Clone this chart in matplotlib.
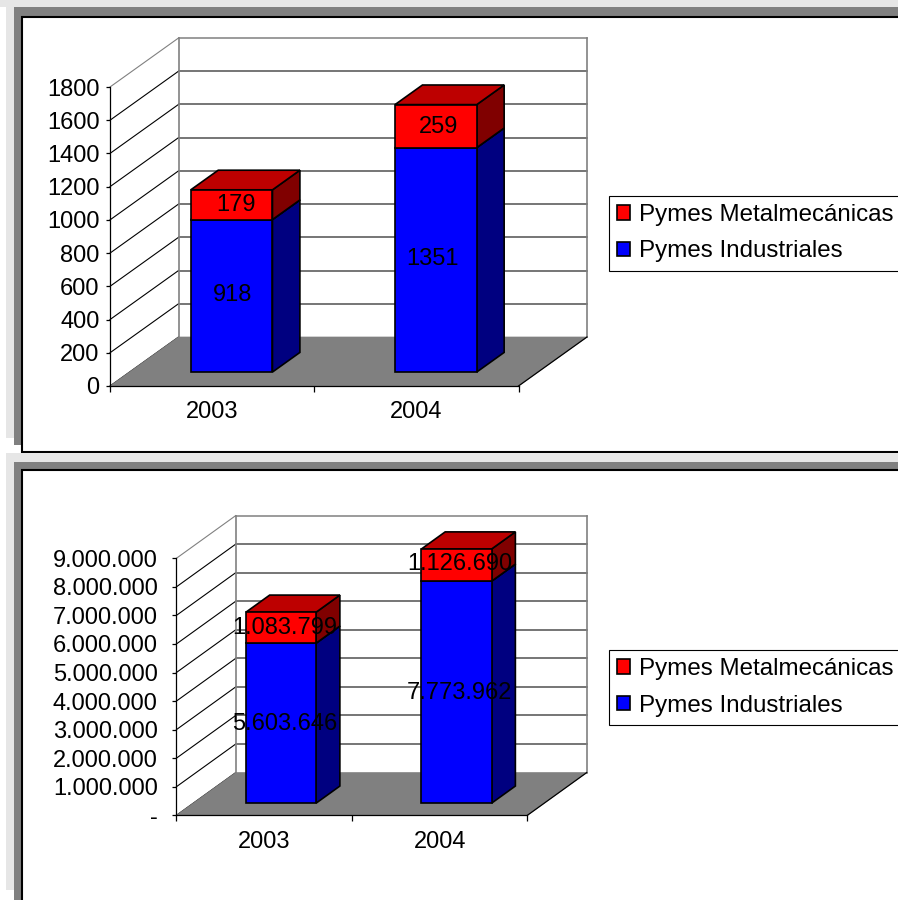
import matplotlib
matplotlib.use("Agg")
import matplotlib.pyplot as plt
from matplotlib.patches import Polygon, Patch, Rectangle

plt.rcParams['font.family'] = ['Liberation Sans', 'DejaVu Sans']

W, H = 898, 900

categories = ['2003', '2004']
series_names = ['Pymes Industriales', 'Pymes Metalmecánicas']

pymes_count_ind = [918, 1351]
pymes_count_met = [179, 259]
count_ticks = [0, 200, 400, 600, 800, 1000, 1200, 1400, 1600, 1800]

pymes_sales_ind = [5603646, 7773962]
pymes_sales_met = [1083799, 1126690]
sales_ticks = [0, 1000000, 2000000, 3000000, 4000000, 5000000, 6000000, 7000000, 8000000, 9000000]


def plain(v):
    return str(v)


def dotted(v):
    return '-' if v == 0 else f'{v:,}'.replace(',', '.')


FS = 17
fig = plt.figure(figsize=(W / 100, H / 100), dpi=100, facecolor='white')

bg = fig.add_axes([0, 0, 1, 1], zorder=0)
bg.set_xlim(0, W)
bg.set_ylim(H, 0)
bg.axis('off')
LIGHT, DARK = '#e6e6e6', '#808080'
bg.add_patch(Rectangle((0, 0), W, 7, fc=LIGHT, ec='none'))
bg.add_patch(Rectangle((6, 0), W, 438, fc=LIGHT, ec='none'))
bg.add_patch(Rectangle((14, 7), W, 438, fc=DARK, ec='none'))
bg.add_patch(Rectangle((22, 16.5), W, 435.5, fc='white', ec='black', lw=1.5))
bg.add_patch(Rectangle((6, 453), W, 437, fc=LIGHT, ec='none'))
bg.add_patch(Rectangle((14, 462), W, 440, fc=DARK, ec='none'))
bg.add_patch(Rectangle((22, 470), W, 440, fc='white', ec='black', lw=1.5))


def chart(left, right, y0, ytop, dx_px, dy_px, ticks, ind, met, fmt, pad,
          label_off, legend_top):
    ax = fig.add_axes([left / W, 1 - y0 / H, (right - left) / W, (y0 - ytop) / H],
                      zorder=2)
    ax.patch.set_alpha(0)
    ymax = ticks[-1]
    ax.set_xlim(0, len(categories))
    ax.set_ylim(0, ymax)
    cat_px = (right - left) / len(categories)
    dxu = dx_px / cat_px
    dyu = dy_px * ymax / (y0 - ytop)

    def pr(x, y, d):
        return (x + d * dxu, y + d * dyu)

    def poly(pts, fc, ec='black', lw=1.2, z=3):
        ax.add_patch(Polygon(pts, closed=True, fc=fc, ec=ec, lw=lw, zorder=z,
                             clip_on=False, joinstyle='miter'))

    n = len(categories)
    # walls and grid
    for i, t in enumerate(ticks):
        top = t == ymax
        ax.plot(*zip(pr(0, t, 0), pr(0, t, 1)), color=DARK if top else 'black',
                lw=0.8, clip_on=False, zorder=1)
        if t > 0:
            ax.plot(*zip(pr(0, t, 1), pr(n, t, 1)), color='#505050' if not top else DARK,
                    lw=1.1, clip_on=False, zorder=1)
    ax.plot(*zip(pr(0, 0, 1), pr(0, ymax, 1)), color=DARK, lw=1.2, clip_on=False, zorder=1)
    ax.plot(*zip(pr(n, 0, 1), pr(n, ymax, 1)), color=DARK, lw=1.2, clip_on=False, zorder=1)
    # floor
    poly([pr(0, 0, 0), pr(n, 0, 0), pr(n, 0, 1), pr(0, 0, 1)], DARK, ec=DARK, lw=0.5, z=1.5)
    ax.plot(*zip(pr(n, 0, 0), pr(n, 0, 1)), color='black', lw=0.9, clip_on=False, zorder=1.6)

    # bars
    d0, d1 = 0.285, 0.685
    gap, bw = 0.30, 0.40
    for k, (a, b) in enumerate(zip(ind, met)):
        x0, x1 = k + gap, k + gap + bw
        for base, h, front, side, topc in ((0, a, '#0000ff', '#000080', '#0000bd'),
                                           (a, b, '#ff0000', '#800000', '#bd0000')):
            y1 = base + h
            poly([pr(x1, base, d0), pr(x1, base, d1), pr(x1, y1, d1), pr(x1, y1, d0)], side)
            poly([pr(x0, y1, d0), pr(x1, y1, d0), pr(x1, y1, d1), pr(x0, y1, d1)], topc)
            poly([pr(x0, base, d0), pr(x1, base, d0), pr(x1, y1, d0), pr(x0, y1, d0)], front)
        for val, base, off in ((a, 0, label_off[k][0]), (b, a, label_off[k][1])):
            ax.annotate(fmt(val), pr((x0 + x1) / 2, base + val / 2, d0),
                        xytext=(off[0] * 0.72, off[1] * 0.72), textcoords='offset points',
                        ha='center', va='center', fontsize=FS, color='black',
                        zorder=6, annotation_clip=False)

    # axes
    for s in ('top', 'right'):
        ax.spines[s].set_visible(False)
    for s in ('left', 'bottom'):
        ax.spines[s].set_linewidth(0.9)
        ax.spines[s].set_zorder(5)
    ax.set_yticks(ticks)
    ax.set_yticklabels([fmt(t) for t in ticks], fontsize=FS)
    ax.tick_params(axis='y', length=3, width=0.9, pad=pad)
    ax.set_xticks(range(n + 1))
    ax.set_xticklabels([])
    ax.tick_params(axis='x', which='major', length=4.5, width=0.9)
    ax.set_xticks([i + 0.5 for i in range(n)], minor=True)
    ax.set_xticklabels(categories, minor=True, fontsize=FS)
    ax.tick_params(axis='x', which='minor', length=0, pad=11)

    handles = [Patch(fc='#ff0000', ec='black', lw=1.2, label=series_names[1]),
               Patch(fc='#0000ff', ec='black', lw=1.2, label=series_names[0])]
    leg = ax.legend(handles=handles, loc='upper left',
                    bbox_to_anchor=(609 / W, 1 - legend_top / H),
                    bbox_transform=fig.transFigure, borderaxespad=0, fontsize=17.4,
                    frameon=True, fancybox=False, edgecolor='black', framealpha=1,
                    handlelength=0.54, handleheight=0.54, handletextpad=0.37,
                    borderpad=0.34, labelspacing=0.6)
    leg.get_frame().set_linewidth(0.8)
    leg.set_zorder(7)
    return ax


chart(110, 518.5, 386, 87, 68.5, 49, count_ticks, pymes_count_ind, pymes_count_met,
      plain, 4.5, [[(0.7, 1), (4.5, -0.5)], [(-3, 1), (3, -1)]], 195.7)
chart(176.4, 527.4, 815.3, 558.3, 59.3, 42.7, sales_ticks, pymes_sales_ind, pymes_sales_met,
      dotted, 10.5, [[(4, -1), (4, 0)], [(3, -0.5), (3, 1.5)]], 650)

fig.savefig('out.png', dpi=100, facecolor='white')
